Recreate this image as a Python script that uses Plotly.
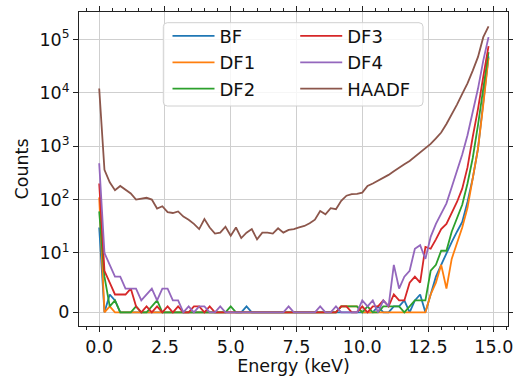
import math
import plotly.graph_objects as go

# ---- data ----
energy_keV = [round(0.2 * i, 1) for i in range(75)]  # 0.0 ... 14.8

BF = [30, 0, 3, 2, 0, 0, 0, 0, 0, 0,
      0, 0, 0, 0, 0, 0, 0, 0, 0, 0,
      0, 0, 0, 0, 0, 0, 0, 0, 1, 0,
      0, 0, 0, 0, 0, 0, 0, 0, 0, 0,
      0, 0, 0, 0, 0, 0, 0, 0, 0, 0,
      0, 0, 0, 1, 0, 0, 1, 1, 2, 0,
      2, 3, 0, 3, 6, 8, 10, 16, 25, 38,
      90, 250, 900, 6000, 48000]

DF1 = [110, 0, 1, 0, 0, 0, 0, 0, 0, 0,
       0, 0, 0, 0, 0, 0, 0, 0, 0, 0,
       0, 0, 0, 0, 0, 0, 0, 0, 0, 0,
       0, 0, 0, 0, 0, 0, 0, 0, 0, 0,
       0, 0, 0, 0, 0, 0, 1, 1, 1, 1,
       0, 0, 0, 0, 0, 0, 0, 0, 0, 0,
       0, 0, 0, 3, 5, 8, 4, 9, 16, 30,
       70, 250, 900, 6000, 45000]

DF2 = [60, 6, 1, 2, 0, 0, 0, 1, 0, 0,
       1, 2, 0, 0, 0, 0, 0, 0, 0, 0,
       0, 0, 0, 0, 0, 1, 0, 0, 0, 0,
       0, 0, 0, 0, 0, 0, 0, 0, 0, 0,
       0, 0, 0, 0, 0, 0, 1, 1, 1, 1,
       0, 1, 0, 0, 1, 1, 1, 1, 0, 1,
       2, 2, 2, 7, 8, 11, 11, 25, 45, 80,
       200, 600, 2500, 12000, 58000]

DF3 = [200, 7, 5, 3, 3, 3, 4, 1, 0, 1,
       0, 1, 0, 1, 0, 1, 0, 0, 1, 1,
       0, 1, 0, 0, 0, 0, 0, 0, 0, 0,
       0, 0, 0, 0, 0, 0, 0, 0, 0, 0,
       0, 0, 0, 0, 0, 0, 1, 1, 0, 0,
       1, 0, 1, 1, 2, 1, 3, 2, 2, 5,
       6, 5, 13, 12, 18, 28, 35, 55, 90, 160,
       400, 1500, 5000, 20000, 75000]

DF4 = [480, 10, 8, 6, 6, 4, 4, 4, 2, 3,
       4, 2, 4, 4, 2, 2, 0, 1, 0, 1,
       1, 0, 0, 1, 0, 0, 0, 0, 0, 0,
       0, 0, 0, 0, 0, 0, 1, 0, 0, 0,
       0, 0, 1, 0, 0, 1, 0, 0, 0, 0,
       2, 1, 2, 0, 2, 1, 8, 4, 6, 7,
       12, 14, 9, 20, 35, 55, 85, 170, 330, 700,
       1600, 4500, 12000, 40000, 110000]

HAADF = [12000, 360, 210, 150, 180, 150, 130, 100, 105, 108,
         100, 68, 75, 58, 56, 60, 48, 42, 35, 28,
         43, 30, 23, 24, 31, 21, 30, 19, 24, 28,
         18, 24, 24, 23, 29, 24, 27, 28, 30, 32,
         36, 42, 61, 53, 69, 66, 95, 118, 126, 128,
         135, 180, 200, 225, 250, 290, 340, 400, 460, 530,
         630, 760, 900, 1100, 1400, 1800, 2600, 3900, 6000, 9500,
         15000, 26000, 47000, 110000, 175000]

series_names = ["BF", "DF1", "DF2", "DF3", "DF4", "HAADF"]
series_values = [BF, DF1, DF2, DF3, DF4, HAADF]
series_colors = ["#1f77b4", "#ff7f0e", "#2ca02c", "#d62728", "#9467bd", "#8c564b"]
series_legend = ["legend", "legend", "legend", "legend2", "legend2", "legend2"]

y_tick_values = [0, 10, 100, 1000, 10000, 100000]
y_tick_labels = ["0", "10<sup>1</sup>", "10<sup>2</sup>", "10<sup>3</sup>",
                 "10<sup>4</sup>", "10<sup>5</sup>"]
x_tick_values = [0.0, 2.5, 5.0, 7.5, 10.0, 12.5, 15.0]

# symmetric-log scale (linthresh=10, linscale=1), like matplotlib's 'symlog'
LINTHRESH = 10.0
LINSCALE_ADJ = 1.0 / (1.0 - 1.0 / 10.0)


def symlog(v):
    if abs(v) <= LINTHRESH:
        return v / LINTHRESH * LINSCALE_ADJ
    s = 1 if v > 0 else -1
    return s * (LINSCALE_ADJ + math.log10(abs(v) / LINTHRESH))


FONT = "DejaVu Sans"
TXT = "#111111"
fig = go.Figure()
for name, vals, col, lg in zip(series_names, series_values, series_colors, series_legend):
    fig.add_trace(go.Scatter(
        x=energy_keV, y=[symlog(v) for v in vals], mode="lines", name=name,
        line=dict(color=col, width=1.8), legend=lg))

axis_common = dict(showline=True, linecolor="#222222", linewidth=1, mirror="allticks",
                   ticks="outside", tickcolor="#222222", ticklen=5, tickwidth=1,
                   showgrid=True, gridcolor="#cfcfcf", gridwidth=1, zeroline=False,
                   automargin=False, ticklabeloverflow="allow",
                   tickfont=dict(family=FONT, size=17.5, color=TXT))

fig.update_xaxes(range=[-0.768, 15.54], tickvals=x_tick_values,
                 ticktext=[f"{v:.1f}" for v in x_tick_values],
                 minor=dict(dtick=0.5, ticks="outside", ticklen=3, tickcolor="#222222", showgrid=False),
                 title=dict(text="Energy (keV)", font=dict(family=FONT, size=17.5, color=TXT),
                            standoff=1),
                 **axis_common)
fig.update_yaxes(range=[-0.257, 5.624], tickvals=[symlog(v) for v in y_tick_values],
                 ticktext=y_tick_labels,
                 title=dict(text="Counts", font=dict(family=FONT, size=17.5, color=TXT),
                            standoff=6),
                 **axis_common)

# legend frame (matplotlib-like, slightly rounded, semi-transparent white)
x0, x1, y0, y1 = 0.1965, 0.8019, 0.7006, 0.9659
rx, ry = 4 / 429, 4 / 314
frame_path = (f"M{x0 + rx},{y1} L{x1 - rx},{y1} Q{x1},{y1} {x1},{y1 - ry} "
              f"L{x1},{y0 + ry} Q{x1},{y0} {x1 - rx},{y0} L{x0 + rx},{y0} "
              f"Q{x0},{y0} {x0},{y0 + ry} L{x0},{y1 - ry} Q{x0},{y1} {x0 + rx},{y1} Z")
fig.add_shape(type="path", path=frame_path, xref="paper", yref="paper", layer="above",
              fillcolor="rgba(255,255,255,0.8)", line=dict(color="#d0d0d0", width=1))

legend_common = dict(orientation="v", xanchor="left", yanchor="top", y=0.9818,
                     bgcolor="rgba(0,0,0,0)", borderwidth=0, itemwidth=42,
                     tracegroupgap=0, font=dict(family=FONT, size=18, color=TXT))

fig.update_layout(
    width=513, height=376,
    margin=dict(l=79, r=5, t=12, b=50),
    paper_bgcolor="white", plot_bgcolor="white",
    font=dict(family=FONT, size=17, color=TXT),
    legend=dict(x=0.2063, **legend_common),
    legend2=dict(x=0.504, **legend_common),
    showlegend=True,
)

fig.write_html("out.html")
